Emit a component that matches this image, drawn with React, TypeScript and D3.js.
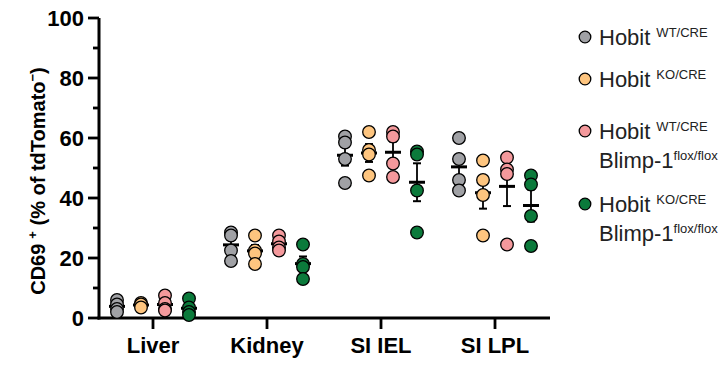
import React from "react";
import * as d3 from "d3";

// organs on the x axis
const categories = ["Liver", "Kidney", "SI IEL", "SI LPL"];

// CD69+ (% of tdTomato-) per organ, one list per genotype
const hobitWT = [
  [6, 4.5, 3, 2],
  [28.5, 27.5, 22.5, 19],
  [60.5, 58.5, 53, 45],
  [60, 53, 46, 42.5],
];
const hobitKO = [
  [5, 4.5, 3.5],
  [27.5, 22.5, 21.5, 18],
  [62, 56, 54.5, 47.5],
  [52.5, 46, 41, 27.5],
];
const hobitWTBlimp = [
  [7.5, 5, 3, 2.5],
  [27.5, 25.5, 23.5, 22.5],
  [62, 60.5, 51.5, 47],
  [53.5, 49.5, 48, 24.5],
];
const hobitKOBlimp = [
  [6.5, 3.5, 2, 1],
  [24.5, 18, 17, 13],
  [55.5, 54.5, 42.5, 28.5],
  [47.5, 44.5, 34, 24],
];

const yTicks = [0, 20, 40, 60, 80, 100];
const yMinorTicks = [10, 30, 50, 70, 90];

const seriesKeys = ["wt", "ko", "wtBlimp", "koBlimp"];
const seriesValues = [hobitWT, hobitKO, hobitWTBlimp, hobitKOBlimp];
const seriesColors = ["#a0a1a5", "#fec57f", "#f4999c", "#0b7a3b"];
const seriesSup = ["WT/CRE", "KO/CRE", "WT/CRE", "KO/CRE"];
const seriesSecondLine = [false, false, true, true];

const font = "'Liberation Sans', Arial, sans-serif";

function meanSem(v: number[]) {
  const m = d3.mean(v) as number;
  const sd = v.length > 1 ? (d3.deviation(v) as number) : 0;
  return { m, sem: sd / Math.sqrt(v.length) };
}

export default function App() {
  const xAxisStart = 99;
  const xAxisEnd = 550;
  const x = d3.scalePoint<string>().domain(categories).range([153, 495]);
  const offset = d3.scalePoint<string>().domain(seriesKeys).range([-36, 36]);
  const y = d3.scaleLinear().domain([0, 100]).range([318, 18]);

  const r = 6.3;
  const legendY = [37, 79, 131, 204];

  return (
    <div>
      <style>{"body{margin:0}"}</style>
      <svg width={727} height={365} style={{ display: "block" }} fontFamily={font}>
        {/* axes */}
        <line x1={xAxisStart} x2={xAxisStart} y1={y(100)} y2={y(0) + 1.5} stroke="#000" strokeWidth={3} />
        <line x1={xAxisStart - 1.5} x2={xAxisEnd} y1={y(0)} y2={y(0)} stroke="#000" strokeWidth={3} />
        {yTicks.map((t) => (
          <g key={"yt" + t}>
            <line x1={xAxisStart - 11} x2={xAxisStart} y1={y(t)} y2={y(t)} stroke="#000" strokeWidth={2.8} />
            <text x={xAxisStart - 15} y={y(t)} dy="0.36em" textAnchor="end" fontSize={22} fontWeight="bold">
              {t}
            </text>
          </g>
        ))}
        {yMinorTicks.map((t) => (
          <line key={"ym" + t} x1={xAxisStart - 6} x2={xAxisStart} y1={y(t)} y2={y(t)} stroke="#000" strokeWidth={2.8} />
        ))}
        {categories.map((c) => (
          <g key={"xt" + c}>
            <line x1={x(c)} x2={x(c)} y1={y(0)} y2={y(0) + 11} stroke="#000" strokeWidth={2.8} />
            <text x={x(c)} y={353} textAnchor="middle" fontSize={22} fontWeight="bold">
              {c}
            </text>
          </g>
        ))}

        {/* y title */}
        <text transform="translate(45,181) rotate(-90)" textAnchor="middle" fontSize={20} fontWeight="bold">
          CD69
          <tspan dx={5} dy={-8} fontSize={13}>+</tspan>
          <tspan dy={8}> (% of tdTomato</tspan>
          <tspan dy={-8} fontSize={13}>−</tspan>
          <tspan dy={8}>)</tspan>
        </text>

        {/* error bars (mean ± SEM) */}
        {seriesKeys.map((k, si) =>
          categories.map((c, ci) => {
            const { m, sem } = meanSem(seriesValues[si][ci]);
            const cx = (x(c) as number) + (offset(k) as number);
            return (
              <g key={"eb" + k + c} stroke="#000">
                <line x1={cx} x2={cx} y1={y(m + sem)} y2={y(m - sem)} strokeWidth={1.8} />
                <line x1={cx - 4} x2={cx + 4} y1={y(m + sem)} y2={y(m + sem)} strokeWidth={2} />
                <line x1={cx - 4} x2={cx + 4} y1={y(m - sem)} y2={y(m - sem)} strokeWidth={2} />
                <line x1={cx - 8} x2={cx + 8} y1={y(m)} y2={y(m)} strokeWidth={3} />
              </g>
            );
          })
        )}

        {/* points */}
        {seriesKeys.map((k, si) =>
          categories.map((c, ci) =>
            seriesValues[si][ci].map((v, i) => (
              <circle
                key={"pt" + k + c + i}
                cx={(x(c) as number) + (offset(k) as number)}
                cy={y(v)}
                r={r}
                fill={seriesColors[si]}
                stroke="#000"
                strokeWidth={1.3}
              />
            ))
          )
        )}

        {/* legend */}
        {seriesKeys.map((k, si) => (
          <g key={"lg" + k} fill="#222">
            <circle cx={585} cy={legendY[si]} r={5.8} fill={seriesColors[si]} stroke="#000" strokeWidth={1.3} />
            <text x={599} y={legendY[si] + 8} fontSize={22}>
              Hobit
              <tspan dx={6} dy={-8} fontSize={13}>{seriesSup[si]}</tspan>
            </text>
            {seriesSecondLine[si] && (
              <text x={599} y={legendY[si] + 37} fontSize={22}>
                Blimp-1
                <tspan dy={-8} fontSize={13}>flox/flox</tspan>
              </text>
            )}
          </g>
        ))}
      </svg>
    </div>
  );
}
